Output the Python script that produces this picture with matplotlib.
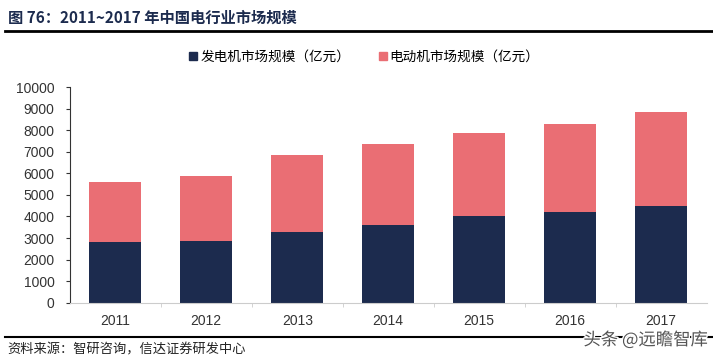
import matplotlib.pyplot as plt
import matplotlib.patheffects as pe
from matplotlib.lines import Line2D

plt.rcParams['font.family'] = ['Liberation Sans', 'Noto Sans CJK SC', 'DejaVu Sans']

# 数据（亿元）
years = ['2011', '2012', '2013', '2014', '2015', '2016', '2017']
generator = [2820, 2880, 3290, 3620, 4000, 4230, 4500]
motor = [2800, 3020, 3570, 3760, 3880, 4070, 4340]
labels = ['发电机市场规模（亿元）', '电动机市场规模（亿元）']

navy = '#1c2b4e'
salmon = '#ea6e74'

fig = plt.figure(figsize=(7.13, 3.59), dpi=100)
ax = fig.add_axes([0.098, 0.157, 0.893, 0.6])

x = range(len(years))
ax.bar(x, generator, width=0.57, color=navy, label=labels[0])
ax.bar(x, motor, width=0.57, bottom=generator, color=salmon, label=labels[1])

ax.set_xlim(-0.5, len(years) - 0.5)
ax.set_ylim(0, 10000)
ax.set_yticks(range(0, 10001, 1000))
ax.set_xticks(list(x))
ax.set_xticklabels(years)
ax.set_xticks([i + 0.5 for i in range(len(years) - 1)], minor=True)

for s in ['top', 'right']:
    ax.spines[s].set_visible(False)
ax.spines['left'].set_color('#333333')
ax.spines['left'].set_linewidth(0.8)
ax.spines['bottom'].set_color('#cccccc')
ax.spines['bottom'].set_linewidth(0.8)
ax.tick_params(axis='y', labelsize=10, colors='#333333', length=3, width=0.8, pad=8)
ax.tick_params(axis='x', which='major', length=0, labelsize=10, colors='#333333', pad=8)
ax.tick_params(axis='x', which='minor', length=3, color='#cccccc')

# 图例
handles = [Line2D([], [], marker='s', linestyle='', color=navy, markersize=6),
           Line2D([], [], marker='s', linestyle='', color=salmon, markersize=6)]
fig.legend(handles, labels, loc='center', bbox_to_anchor=(0.51, 0.842), ncol=2,
           frameon=False, handletextpad=0.1, columnspacing=2.0, handlelength=0.8,
           prop={'family': ['Noto Sans CJK SC'], 'size': 9.8})

# 标题与横线
fig.text(0.011, 0.95, '图 76：2011~2017 年中国电行业市场规模', fontsize=11, fontweight='bold',
         color='#1c2b4e', family=['Noto Sans CJK SC'], va='center', ha='left')
fig.add_artist(Line2D([0.007, 1.0], [0.915, 0.915], color='black', linewidth=2))

# 底部来源
fig.add_artist(Line2D([0.007, 1.0], [0.061, 0.061], color='black', linewidth=1.5))
fig.text(0.011, 0.025, '资料来源：智研咨询，信达证券研发中心', fontsize=9.5, color='#222222',
         family=['Noto Sans CJK SC'], va='center', ha='left')
fig.text(0.993, 0.053, '头条 @远瞻智库', fontsize=12.5, color='#555555', family=['Noto Sans CJK SC'],
         va='center', ha='right',
         path_effects=[pe.withStroke(linewidth=2, foreground='white')])

fig.savefig('out.png', dpi=100)
